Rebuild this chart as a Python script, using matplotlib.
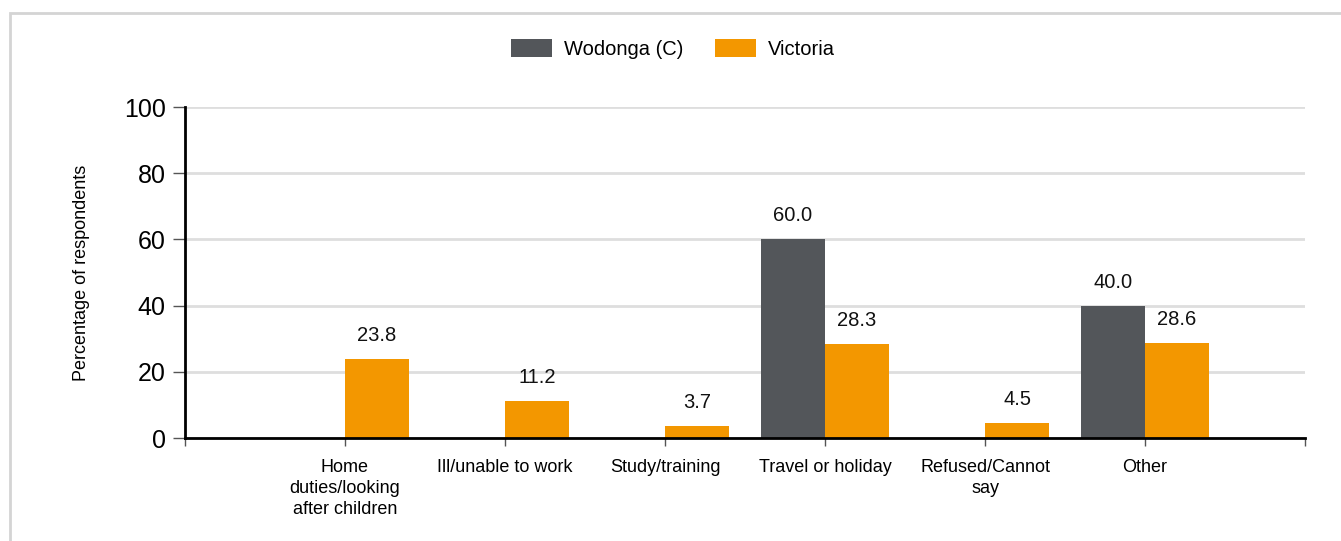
import numpy as np
import matplotlib.pyplot as plt
from matplotlib.patches import Rectangle

plt.rcParams['font.family'] = ['Liberation Sans', 'DejaVu Sans']

# data
categories = ["Home\nduties/looking\nafter children", "Ill/unable to work", "Study/training",
              "Travel or holiday", "Refused/Cannot\nsay", "Other"]
wodonga = [np.nan, np.nan, np.nan, 60.0, np.nan, 40.0]
victoria = [23.8, 11.2, 3.7, 28.3, 4.5, 28.6]
series_names = ["Wodonga (C)", "Victoria"]
colours = ["#53565a", "#f39700"]

fig = plt.figure(figsize=(13.41, 5.41), dpi=100)
ax = fig.add_axes([185 / 1341, 1 - 438 / 541, 1120 / 1341, 331 / 541])

# light frame round the whole chart
fig.patches.append(Rectangle((10 / 1341, -0.1), 1.2, 1 - 13 / 541 + 0.1, transform=fig.transFigure,
                             fill=False, edgecolor="#d4d4d4", linewidth=2))

x = np.arange(len(categories))
w = 0.4
b1 = ax.bar(x - w / 2, np.nan_to_num(wodonga), w, color=colours[0], label=series_names[0])
b2 = ax.bar(x + w / 2, victoria, w, color=colours[1], label=series_names[1])

for xs, vals in [(x - w / 2, wodonga), (x + w / 2, victoria)]:
    for xi, v in zip(xs, vals):
        if np.isnan(v):
            continue
        ax.text(xi, v + 4.2, f"{v:.1f}", ha="center", va="bottom", fontsize=14.5, color="#111111")

ax.set_xlim(-1, len(categories))
ax.set_ylim(0, 100)
ax.set_yticks(range(0, 101, 20))
ax.tick_params(axis="y", labelsize=18, length=9, width=1, color="#555555", pad=5)
ax.set_xticks(np.arange(-1, len(categories) + 1))
ax.set_xticklabels([""] + categories + [""], fontsize=13, linespacing=1.3)
ax.tick_params(axis="x", length=6, width=1, color="#555555", pad=9)

ax.grid(axis="y", color="#dedede", linewidth=2)
ax.set_axisbelow(True)
for s in ["top", "right"]:
    ax.spines[s].set_visible(False)
ax.spines["left"].set_linewidth(2)
ax.spines["bottom"].set_linewidth(2)

ax.set_ylabel("Percentage of respondents", fontsize=13, labelpad=24)

fig.legend(handles=[b1, b2], loc="center", bbox_to_anchor=(673 / 1341, 1 - 49 / 541), ncol=2,
           frameon=False, fontsize=14.5, handlelength=2.0, handleheight=0.95, columnspacing=1.6,
           handletextpad=0.6)

fig.savefig("out.png", dpi=100)
